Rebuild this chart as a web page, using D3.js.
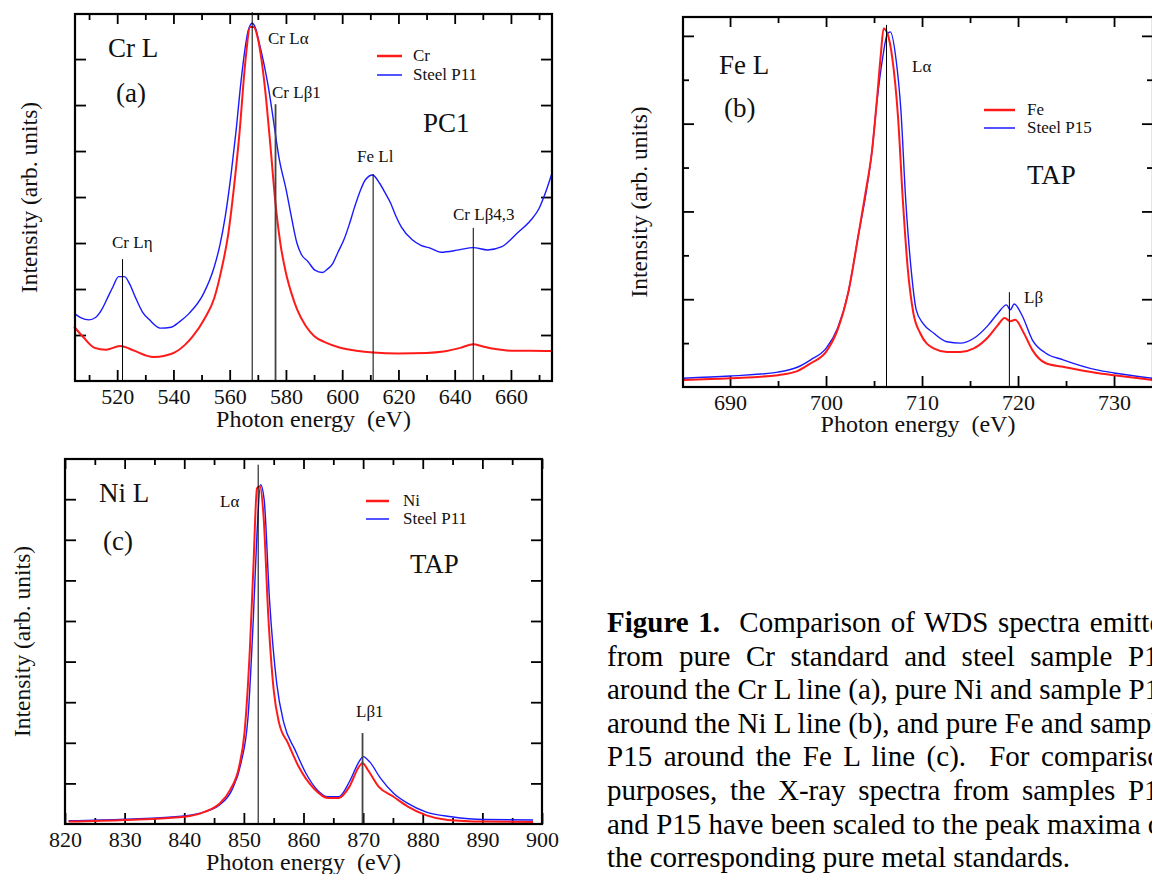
<!DOCTYPE html>
<html>
<head>
<meta charset="utf-8">
<script src="https://cdnjs.cloudflare.com/ajax/libs/d3/7.8.5/d3.min.js"></script>
<style>
body{margin:0;background:#fff;overflow:hidden}
svg text{font-family:"Liberation Serif","Times New Roman",serif;white-space:pre}
</style>
</head>
<body>
<div id="fig"></div>
<script>
// ---- panel (a): Cr L, PC1 crystal ----  [energy eV, intensity arb.]
var crSpec=[[504.7,1.18],[508,0.95],[512,0.72],[516,0.68],[521,0.76],[526,0.66],[530,0.56],[533,0.52],[537,0.55],[540.5,0.62],[544,0.78],[547,0.98],[551,1.35],[554.5,1.8],[557,2.4],[559.5,3.2],[561.5,4.2],[563.5,5.4],[565.5,6.9],[567.3,7.7],[568.5,7.7],[570,7.45],[571.5,6.9],[573,6.1],[574.5,5.1],[576.3,3.85],[578,3.0],[580,2.35],[582,1.9],[584,1.55],[587,1.2],[590,0.98],[594,0.84],[599,0.73],[605,0.66],[611,0.62],[620,0.6],[630,0.61],[636,0.64],[642,0.72],[646.6,0.8],[650,0.75],[654,0.7],[660,0.66],[667,0.66],[674.5,0.65]];
var p11CrSpec=[[504.7,1.47],[507,1.38],[510,1.33],[512.3,1.38],[514.5,1.55],[516.2,1.76],[518.5,2.05],[520.5,2.27],[522.6,2.27],[524.5,2.1],[526.4,1.83],[529,1.5],[531.5,1.33],[535.3,1.15],[539.2,1.17],[542,1.28],[545.6,1.47],[550.7,1.9],[554.5,2.48],[556.5,2.95],[558.4,3.57],[560.5,4.5],[562.2,5.4],[564,6.5],[565.4,7.2],[566.5,7.6],[568,7.78],[569.2,7.67],[570.5,7.35],[572.4,6.83],[574,6.3],[575,5.9],[576.3,5.35],[577.5,4.87],[580.1,4.15],[582,3.55],[583.9,3.0],[585.5,2.75],[587.8,2.6],[590.3,2.41],[592.9,2.36],[594.5,2.42],[596.7,2.56],[598.5,2.8],[600.6,3.07],[602.5,3.4],[604.4,3.78],[606.5,4.15],[608.2,4.37],[610.8,4.48],[613.3,4.3],[615.2,4.1],[617.2,3.87],[619,3.6],[621,3.35],[624.9,3.07],[628,2.95],[631.3,2.89],[635.1,2.8],[641.5,2.85],[646.6,2.9],[651.7,2.85],[656.8,2.92],[659.5,3.05],[662,3.2],[667.1,3.5],[670,3.75],[672.2,4.08],[674.5,4.5]];
var crLineNames=["Cr L\u03b7","Cr L\u03b1","Cr L\u03b21","Fe Ll","Cr L\u03b24,3"];
var crLineEnergy=[521.9,568,576.3,611,646.6];
var crLineTop=[2.65,8.02,6.02,4.5,3.33];

// ---- panel (b): Fe L, TAP crystal ----
var feSpec=[[685.1,0.16],[690,0.2],[695,0.27],[697,0.36],[698.4,0.54],[700,0.8],[701.2,1.3],[702.3,2.14],[703.4,3.5],[704.1,4.41],[704.8,5.4],[705.3,6.54],[705.7,7.56],[706.0,8.17],[706.4,8.05],[706.9,7.5],[707.5,6.15],[708,4.26],[708.5,2.73],[709.1,1.68],[709.8,1.23],[711.2,0.88],[712.6,0.8],[714,0.8],[715.4,0.88],[716.9,1.14],[717.9,1.41],[718.6,1.57],[719.2,1.5],[719.7,1.53],[720.6,1.23],[721.5,0.84],[722.9,0.54],[724.7,0.46],[728.2,0.32],[730,0.27],[734,0.16]];
var p15FeSpec=[[685.1,0.2],[690,0.25],[695,0.34],[697,0.45],[698.4,0.62],[700,0.88],[701.2,1.34],[702.3,2.14],[703.4,3.5],[704.1,4.33],[704.8,5.4],[705.3,6.5],[705.9,7.5],[706.4,8.05],[706.7,8.09],[707.3,7.45],[707.8,6.3],[708.3,4.26],[708.9,2.6],[709.4,1.75],[710.1,1.45],[711.2,1.23],[712.6,1.03],[714,1.0],[715.4,1.11],[716.9,1.41],[717.9,1.68],[718.8,1.87],[719.2,1.76],[719.6,1.89],[720.4,1.64],[721.5,1.07],[722.9,0.77],[724.7,0.62],[728.2,0.39],[730,0.32],[734,0.2]];
var feLineNames=["L\u03b1","L\u03b2"];
var feLineEnergy=[706.3,719.1];
var feLineTop=[8.25,2.16];

// ---- panel (c): Ni L, TAP crystal ----
var niSpec=[[820.6,0.06],[830,0.1],[840,0.18],[843.4,0.3],[845.9,0.5],[847.7,0.84],[849.2,1.41],[850.1,2.24],[851,4.29],[851.6,6.34],[852.2,8.27],[852.7,8.32],[853.3,7.58],[854.1,5.11],[855,3.3],[855.9,2.49],[857.4,1.99],[859.2,1.41],[861.7,0.88],[864.1,0.64],[865.9,0.64],[867.7,0.92],[869.3,1.41],[869.9,1.5],[870.8,1.33],[872.6,0.92],[875.1,0.67],[877.5,0.43],[880.5,0.22],[884.2,0.1],[890.3,0.06],[898.5,0.05]];
var p11NiSpec=[[820.6,0.08],[830,0.12],[840,0.2],[843.4,0.3],[845.9,0.47],[848,0.84],[849.5,1.49],[850.7,2.64],[851.6,5.11],[852.2,7.16],[852.8,8.36],[853.4,7.99],[854.3,5.52],[855.5,3.47],[856.7,2.49],[858.6,1.82],[860.4,1.25],[862.3,0.84],[864.1,0.67],[865.9,0.67],[867.7,1.04],[869.3,1.53],[870,1.66],[871.1,1.53],[872.9,1.13],[875.1,0.76],[877.5,0.51],[880.5,0.3],[884.8,0.18],[890.3,0.11],[898.5,0.1]];
var niLineNames=["L\u03b1","L\u03b21"];
var niLineEnergy=[852.4,869.9];
var niLineTop=[8.85,2.24];

// tick values
var crTicks=[520,540,560,580,600,620,640,660];
var crMinor=[510,530,550,570,590,610,630,650,670];
var feTicks=[690,700,710,720,730];
var feMinor=[695,705,715,725];
var niTicks=[820,830,840,850,860,870,880,890,900];
var niMinor=[825,835,845,855,865,875,885,895];

var caption=[
  ["Figure 1.","  Comparison of WDS spectra emitted"],
  ["","from pure Cr standard and steel sample P11"],
  ["","around the Cr L line (a), pure Ni and sample P11"],
  ["","around the Ni L line (b), and pure Fe and sample"],
  ["","P15 around the Fe L line (c).  For comparison"],
  ["","purposes, the X-ray spectra from samples P11"],
  ["","and P15 have been scaled to the peak maxima of"],
  ["","the corresponding pure metal standards."]
];

var RED="#ff1a1a", BLUE="#1a1aff";

var svg=d3.select("#fig").append("svg")
  .attr("width",1152)
  .attr("height",874);

function drawPanel(p){
  var b=p.box;
  var x=d3.scaleLinear().domain(p.xDomain).range([b.x0,b.x1]);
  var y=d3.scaleLinear().domain(p.yDomain).range([b.y1,b.y0]);
  var g=svg.append("g");

  function ax(axis,tr,vals,size,labels){
    var a=g.append("g").attr("transform",tr)
      .call(axis.tickValues(vals).tickSize(-size).tickPadding(7)
        .tickFormat(labels?d3.format("d"):""));
    a.select(".domain").remove();
    a.selectAll("line").attr("stroke","#000").attr("stroke-width",1.8);
    a.attr("font-size",22).attr("font-family",null);
    a.selectAll("text").attr("fill","#111");
    return a;
  }
  ax(d3.axisBottom(x),"translate(0,"+b.y1+")",p.xMinor,6,false);
  ax(d3.axisBottom(x),"translate(0,"+b.y1+")",p.xTicks,11,true);
  ax(d3.axisTop(x),"translate(0,"+b.y0+")",p.xMinor,6,false);
  ax(d3.axisTop(x),"translate(0,"+b.y0+")",p.xTicks,10,false);
  ax(d3.axisLeft(y),"translate("+b.x0+",0)",p.yMinor,p.yMinorLen,false);
  ax(d3.axisLeft(y),"translate("+b.x0+",0)",p.yMajor,11,false);
  ax(d3.axisRight(y),"translate("+b.x1+",0)",p.yMinor,p.yMinorLen,false);
  ax(d3.axisRight(y),"translate("+b.x1+",0)",p.yMajor,11,false);

  var line=d3.line()
    .x(function(d){return x(d[0])})
    .y(function(d){return y(d[1])})
    .curve(d3.curveMonotoneX);

  g.append("path").datum(p.blue)
    .attr("d",line).attr("fill","none")
    .attr("stroke",BLUE).attr("stroke-width",1.4);
  g.append("path").datum(p.red)
    .attr("d",line).attr("fill","none")
    .attr("stroke",RED).attr("stroke-width",2);

  // emission line markers
  g.selectAll(".mark").data(p.lineEnergy).enter().append("line")
    .attr("x1",function(d){return x(d)}).attr("x2",function(d){return x(d)})
    .attr("y1",function(d,i){return y(p.lineTop[i])}).attr("y2",b.y1)
    .attr("stroke",function(d,i){return p.thick[i]?"#444":"#000"})
    .attr("stroke-width",function(d,i){return p.thick[i]?1.8:1});

  g.append("rect")
    .attr("x",b.x0).attr("y",b.y0)
    .attr("width",b.x1-b.x0).attr("height",b.y1-b.y0)
    .attr("fill","none").attr("stroke","#000").attr("stroke-width",2.2);

  // text labels
  p.labels.forEach(function(l){
    g.append("text").attr("x",l[1]).attr("y",l[2])
      .attr("font-size",l[3]).attr("fill","#111").text(l[0]);
  });

  // legend
  var lg=p.legend;
  g.append("line").attr("x1",lg.x0).attr("x2",lg.x1).attr("y1",lg.y).attr("y2",lg.y)
    .attr("stroke",RED).attr("stroke-width",2.5);
  g.append("line").attr("x1",lg.x0).attr("x2",lg.x1).attr("y1",lg.y+lg.dy).attr("y2",lg.y+lg.dy)
    .attr("stroke",BLUE).attr("stroke-width",1.5);
  g.append("text").attr("x",lg.tx).attr("y",lg.y+5).attr("font-size",17).attr("fill","#111").text(p.redName);
  g.append("text").attr("x",lg.tx).attr("y",lg.y+lg.dy+5).attr("font-size",17).attr("fill","#111").text(p.blueName);

  // axis titles
  g.append("text").attr("x",(b.x0+b.x1)/2).attr("y",b.y1+p.xtY)
    .attr("text-anchor","middle").attr("font-size",24).attr("fill","#111")
    .text("Photon energy  (eV)");
  g.append("text")
    .attr("transform","translate("+(b.x0+p.ytX)+","+((b.y0+b.y1)/2)+") rotate(-90)")
    .attr("text-anchor","middle").attr("font-size",23.5).attr("fill","#111")
    .text("Intensity (arb. units)");
}

drawPanel({
  box:{x0:75,x1:552,y0:14,y1:381},
  xDomain:[505,674.6], yDomain:[0,7.98],
  xTicks:crTicks, xMinor:crMinor,
  yMajor:[1,2,3,4,5,6,7], yMinor:[], yMinorLen:6,
  red:crSpec, blue:p11CrSpec, redName:"Cr", blueName:"Steel P11",
  lineEnergy:crLineEnergy, lineTop:crLineTop, thick:[0,0,1,0,0],
  labels:[["Cr L",108,57,27],["(a)",116,102,27],["PC1",423,132,27],
    [crLineNames[0],112,248,17],[crLineNames[1],268,44,17],[crLineNames[2],272,98,17],
    [crLineNames[3],357,162,17],[crLineNames[4],453,220,17]],
  legend:{x0:377,x1:402,y:56,dy:19,tx:413},
  xtY:46, ytX:-38
});

drawPanel({
  box:{x0:683,x1:1153,y0:17,y1:387},
  xDomain:[685.1,734.06], yDomain:[0,8.43],
  xTicks:feTicks, xMinor:feMinor,
  yMajor:[2,4,6,8], yMinor:[1,3,5,7], yMinorLen:6,
  red:feSpec, blue:p15FeSpec, redName:"Fe", blueName:"Steel P15",
  lineEnergy:feLineEnergy, lineTop:feLineTop, thick:[0,0],
  labels:[["Fe L",719,74,27],["(b)",724,117,27],["TAP",1027,184,27],
    [feLineNames[0],912,72,17],[feLineNames[1],1024,303,17]],
  legend:{x0:984,x1:1015,y:110,dy:18,tx:1027},
  xtY:45, ytX:-36
});

drawPanel({
  box:{x0:65,x1:542,y0:459,y1:824},
  xDomain:[820,900], yDomain:[0,8.99],
  xTicks:niTicks, xMinor:niMinor,
  yMajor:[1,2,3,4,5,6,7,8], yMinor:[], yMinorLen:6,
  red:niSpec, blue:p11NiSpec, redName:"Ni", blueName:"Steel P11",
  lineEnergy:niLineEnergy, lineTop:niLineTop, thick:[0,1],
  labels:[["Ni L",99,502,27],["(c)",103,550,27],["TAP",410,573,27],
    [niLineNames[0],220,507,17],[niLineNames[1],356,717,17]],
  legend:{x0:366,x1:389,y:501,dy:18,tx:403},
  xtY:46, ytX:-35
});

// caption, justified lines
var capW=565;
caption.forEach(function(c,i){
  var t=svg.append("text").attr("x",607).attr("y",632+i*33.6)
    .attr("font-size",29).attr("fill","#000");
  if(c[0]) t.append("tspan").attr("font-weight","bold").text(c[0]);
  t.append("tspan").text(c[1]);
  if(i<caption.length-1){
    var w=t.node().getComputedTextLength();
    var n=(c[1].trim().match(/ +/g)||[]).length+(c[0]?1:0);
    if(n>0&&w<capW) t.attr("word-spacing",(capW-w)/n);
  }
});
</script>
</body>
</html>
